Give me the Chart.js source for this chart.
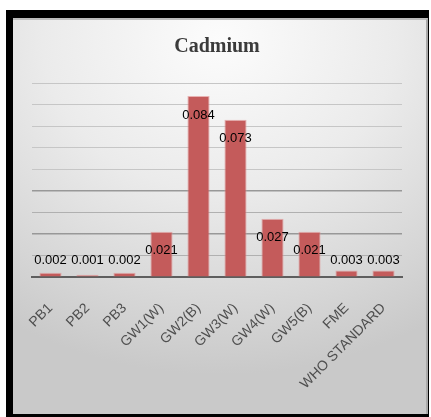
<!DOCTYPE html>
<html>
<head>
<meta charset="utf-8">
<script src="https://cdn.jsdelivr.net/npm/chart.js@4"></script>
<style>
  html, body { margin: 0; padding: 0; background: #fff; }
  body { width: 431px; height: 417px; position: relative; overflow: hidden; }
  #frame { position: absolute; left: 6px; top: 10px; width: 423px; height: 407px; background: #000; }
  #panel {
    position: absolute; left: 7px; top: 8px; width: 413px; height: 394px;
    border-top: 2px solid #bdbdbd; border-right: 2px solid #a9a9a9;
    background: radial-gradient(ellipse 95% 85% at 50% 5%, #fcfcfc 0%, #ebebeb 45%, #d6d6d6 80%, #c9c9c9 100%);
  }
  #chart { position: absolute; left: 0; top: 0; }
</style>
</head>
<body>
<div id="frame"><div id="panel"><canvas id="chart" width="413" height="394"></canvas></div></div>
<script>
// Cadmium concentration per sampling point
const categories = ['PB1', 'PB2', 'PB3', 'GW1(W)', 'GW2(B)', 'GW3(W)', 'GW4(W)', 'GW5(B)', 'FME', 'WHO STANDARD'];
const cadmium = [0.002, 0.001, 0.002, 0.021, 0.084, 0.073, 0.027, 0.021, 0.003, 0.003];
const yTicks = [0, 0.01, 0.02, 0.03, 0.04, 0.05, 0.06, 0.07, 0.08, 0.09];

// value labels: near the bar top, but never lower than just above the axis
const valueLabels = {
  id: 'valueLabels',
  afterDatasetsDraw(chart) {
    const ctx = chart.ctx;
    const yScale = chart.scales.y;
    const floor = yScale.getPixelForValue(0) - 17;
    const meta = chart.getDatasetMeta(0);
    ctx.save();
    ctx.font = '13px "Liberation Sans", Arial, sans-serif';
    ctx.fillStyle = '#000';
    ctx.textAlign = 'center';
    ctx.textBaseline = 'middle';
    meta.data.forEach((bar, i) => {
      const y = Math.min(bar.y + 19, floor);
      ctx.fillText(cadmium[i].toFixed(3), bar.x, y);
    });
    ctx.restore();
  }
};

new Chart(document.getElementById('chart'), {
  type: 'bar',
  data: {
    labels: categories,
    datasets: [{
      data: cadmium,
      backgroundColor: '#c45b5b',
      borderColor: 'rgba(226,150,150,0.7)',
      borderWidth: 1,
      borderSkipped: 'bottom',
      barPercentage: 0.6,
      categoryPercentage: 1
    }]
  },
  options: {
    responsive: false,
    animation: false,
    layout: { padding: { left: 19, right: 24, top: 0, bottom: 0 } },
    plugins: {
      legend: { display: false },
      tooltip: { enabled: false },
      title: {
        display: true,
        text: 'Cadmium',
        color: '#3b3b3b',
        font: { family: '"Liberation Serif", "Times New Roman", serif', size: 20, weight: 'bold' },
        padding: { top: 15, bottom: 24 }
      }
    },
    scales: {
      x: {
        grid: { display: false, drawTicks: false },
        border: { display: true, color: '#5e5e5e', width: 2 },
        ticks: {
          autoSkip: false,
          maxRotation: 45,
          minRotation: 45,
          padding: 23,
          color: '#4f4f4f',
          font: { family: '"Liberation Sans", Arial, sans-serif', size: 14 }
        },
        afterFit(scale) {
          scale.height = 137;
          scale.paddingLeft = 0;
          scale.paddingRight = 0;
        }
      },
      y: {
        min: yTicks[0],
        max: yTicks[yTicks.length - 1],
        afterBuildTicks(scale) { scale.ticks = yTicks.map(v => ({ value: v })); },
        border: { display: false },
        grid: {
          drawTicks: false,
          color(ctx) {
            const v = Math.round(ctx.tick.value * 100);
            if (v === 0) return '#5e5e5e';
            if (v === 2 || v === 4) return '#989898';
            if (v === 1 || v === 3) return '#b0b0b0';
            return '#c6c6c6';
          },
          lineWidth(ctx) {
            const v = Math.round(ctx.tick.value * 100);
            return v === 2 || v === 4 ? 1.5 : 1;
          }
        },
        ticks: { display: false },
        afterFit(scale) { scale.width = 0; }
      }
    }
  },
  plugins: [valueLabels]
});
</script>
</body>
</html>
